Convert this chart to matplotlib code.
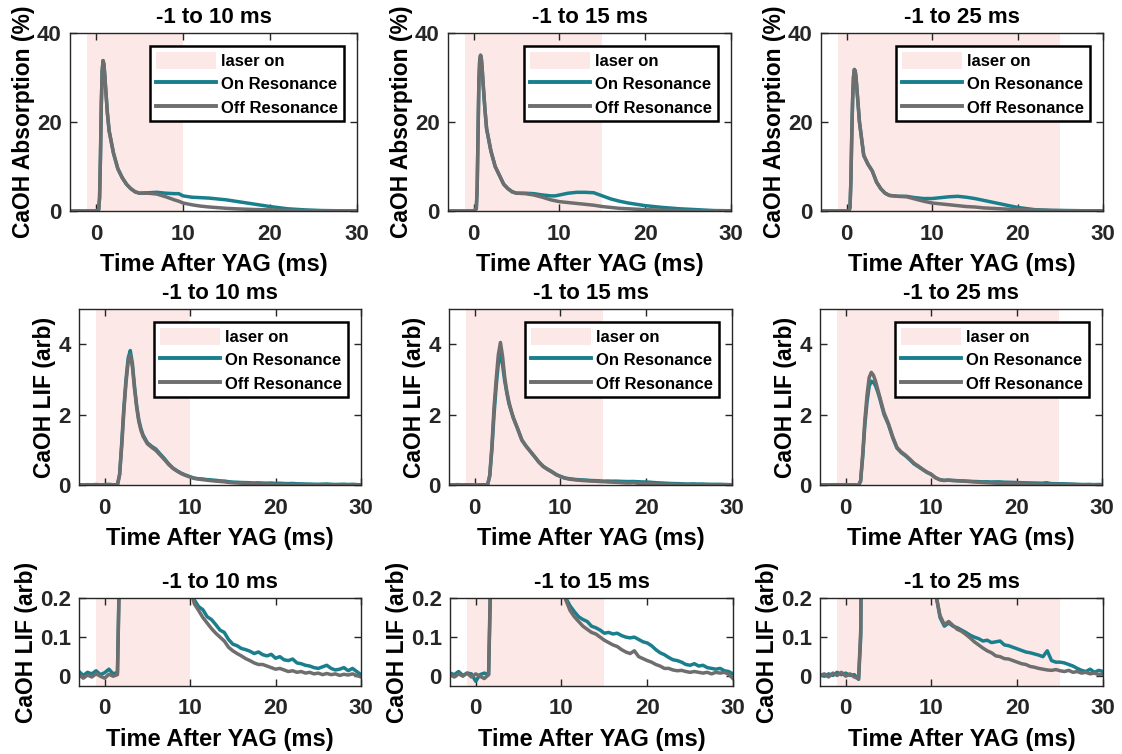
import numpy as np
import matplotlib
matplotlib.use('Agg')
from matplotlib import pyplot as plt
from matplotlib.patches import Patch
from matplotlib.lines import Line2D

plt.rcParams['font.family'] = ['Liberation Sans', 'DejaVu Sans']
plt.rcParams['font.weight'] = 'bold'

# laser windows (ms)
laser_end = [10, 15, 25]
titles = ['-1 to 10 ms', '-1 to 15 ms', '-1 to 25 ms']

# absorption traces (%)
t_abs = [-3, -1, 0, 0.3, 0.4, 0.5, 0.6, 0.7, 0.8, 0.9, 1.0, 1.1, 1.3, 1.5, 2, 2.5, 3, 3.5, 4, 4.5,
         5, 6, 7, 8, 9, 9.5, 10, 11, 12, 13, 14, 15, 16, 17, 18, 19, 20, 22, 24, 26, 28, 30]
abs_on_10 = [0, 0, 0, 0.3, 3, 12, 24, 31.5, 33.8, 33, 30.5, 27.5, 22, 18, 13, 9.5, 7.5, 6, 5, 4.3,
             4.0, 4.1, 4.2, 4.0, 3.9, 3.9, 3.4, 3.1, 3.0, 2.9, 2.7, 2.5, 2.2, 1.9, 1.6, 1.3, 1.0, 0.5,
             0.25, 0.1, 0.05, 0]
abs_off_10 = [0, 0, 0, 0.3, 3, 12, 24, 31.5, 33.8, 33, 30.5, 27.5, 22, 18, 13, 9.5, 7.5, 6, 5, 4.3,
              4.0, 4.0, 3.8, 3.2, 2.5, 2.2, 1.8, 1.4, 1.1, 0.9, 0.75, 0.6, 0.5, 0.42, 0.35, 0.3, 0.25, 0.15,
              0.08, 0.04, 0.02, 0]
abs_on_15 = [0, 0, 0, 0.5, 5, 17, 29, 34, 35, 34, 31.5, 28.5, 23, 18.5, 13.5, 10, 8, 6, 5, 4.3,
             4.0, 4.0, 3.9, 3.6, 3.4, 3.4, 3.6, 4.0, 4.2, 4.2, 4.1, 3.4, 2.7, 2.2, 1.8, 1.5, 1.2, 0.8,
             0.5, 0.3, 0.1, 0.05]
abs_off_15 = [0, 0, 0, 0.5, 5, 17, 29, 34, 35, 34, 31.5, 28.5, 23, 18.5, 13.5, 10, 8, 6, 5, 4.3,
              4.0, 3.9, 3.6, 3.1, 2.5, 2.3, 2.1, 1.9, 1.7, 1.5, 1.3, 1.0, 0.8, 0.6, 0.5, 0.4, 0.3, 0.2,
              0.1, 0.05, 0.02, 0]
abs_on_25 = [0, 0, 0, 0, 1, 7, 17, 25, 30, 31.8, 31.5, 30, 25, 20, 12.5, 10.5, 9, 6.5, 5, 4.0,
             3.5, 3.3, 3.3, 3.0, 2.8, 2.8, 2.8, 3.0, 3.2, 3.3, 3.1, 2.8, 2.4, 2.0, 1.6, 1.2, 0.8, 0.3,
             0.15, 0.1, 0.05, 0.05]
abs_off_25 = [0, 0, 0, 0, 1, 7, 17, 25, 30, 31.8, 31.5, 30, 25, 20, 12.5, 10.5, 9, 6.5, 5, 4.0,
              3.5, 3.3, 3.2, 2.7, 2.2, 2.0, 1.8, 1.6, 1.4, 1.2, 1.0, 0.9, 0.7, 0.6, 0.5, 0.4, 0.3, 0.2,
              0.1, 0.05, 0.02, 0]

# LIF traces (arb): 0.5 ms steps, 0.25 ms around the peak
t_lif = (list(np.arange(-3, 1.51, 0.5))
         + [1.75, 2.0, 2.25, 2.5, 2.75, 3.0, 3.25, 3.5, 3.75, 4.0, 4.25, 4.5]
         + list(np.arange(5, 30.01, 0.5)))
lif_on_10 = [0.012, 0.002, 0.010, 0.006, 0.014, 0.004, 0.009, 0.018, 0.006, 0.010,
             0.3, 1.2, 2.2, 3.0, 3.6, 3.82, 3.45, 2.8, 2.25, 1.85, 1.6, 1.42,
             1.2, 1.1, 1.02, 0.88, 0.75, 0.6, 0.48, 0.4, 0.33, 0.28, 0.235,
             0.195, 0.178, 0.17, 0.152, 0.145, 0.132, 0.118, 0.112, 0.094, 0.082, 0.078, 0.071, 0.068,
             0.064, 0.058, 0.062, 0.055, 0.052, 0.056, 0.046, 0.05, 0.042, 0.04, 0.044, 0.034, 0.032,
             0.028, 0.026, 0.022, 0.02, 0.024, 0.028, 0.02, 0.016, 0.018, 0.022, 0.014, 0.02, 0.012, 0.004]
lif_off_10 = [0.004, -0.005, 0.003, -0.002, 0.006, 0.0, -0.005, 0.005, 0.0, 0.004,
              0.28, 1.1, 2.1, 2.9, 3.5, 3.7, 3.35, 2.72, 2.2, 1.8, 1.55, 1.38,
              1.17, 1.07, 0.98, 0.85, 0.72, 0.58, 0.47, 0.39, 0.32, 0.27, 0.225,
              0.185, 0.168, 0.15, 0.136, 0.122, 0.11, 0.1, 0.09, 0.074, 0.065, 0.058, 0.052, 0.045,
              0.04, 0.034, 0.03, 0.03, 0.026, 0.022, 0.018, 0.02, 0.016, 0.012, 0.014, 0.01, 0.012,
              0.008, 0.01, 0.006, 0.008, 0.004, 0.007, 0.004, 0.006, 0.002, 0.005, 0.003, 0.006, 0.002, -0.002]
lif_on_15 = [0.008, 0.004, 0.012, 0.002, 0.008, 0.006, -0.013, 0.004, 0.008, 0.004,
             0.25, 1.0, 2.0, 2.8, 3.45, 3.75, 3.4, 2.95, 2.6, 2.3, 2.1, 1.9,
             1.6, 1.28, 1.1, 0.95, 0.8, 0.65, 0.53, 0.45, 0.38, 0.3, 0.245,
             0.2, 0.18, 0.165, 0.152, 0.145, 0.14, 0.128, 0.124, 0.118, 0.11, 0.112, 0.108, 0.11,
             0.104, 0.1, 0.098, 0.1, 0.094, 0.088, 0.085, 0.078, 0.068, 0.06, 0.055, 0.048, 0.042,
             0.04, 0.036, 0.03, 0.028, 0.032, 0.026, 0.028, 0.022, 0.02, 0.018, 0.02, 0.014, 0.012, 0.006]
lif_off_15 = [0.004, -0.002, 0.006, 0.0, 0.008, -0.002, 0.006, 0.0, -0.006, 0.004,
              0.28, 1.1, 2.2, 3.0, 3.7, 4.05, 3.65, 3.05, 2.65, 2.35, 2.12, 1.92,
              1.6, 1.27, 1.1, 0.95, 0.8, 0.64, 0.52, 0.44, 0.37, 0.29, 0.24,
              0.195, 0.168, 0.152, 0.14, 0.128, 0.12, 0.112, 0.108, 0.1, 0.092, 0.086, 0.08, 0.076,
              0.068, 0.062, 0.058, 0.065, 0.05, 0.045, 0.04, 0.036, 0.03, 0.026, 0.02, 0.02, 0.016,
              0.014, 0.015, 0.012, 0.01, 0.012, 0.01, 0.008, 0.01, 0.006, 0.01, 0.008, 0.01, 0.005, -0.006]
lif_on_25 = [0.004, 0.0, 0.006, 0.002, 0.01, 0.004, 0.008, 0.002, 0.004, -0.008,
             0.1, 0.8, 1.7, 2.35, 2.8, 2.95, 2.92, 2.82, 2.65, 2.45, 2.22, 2.0,
             1.72, 1.35, 1.05, 0.92, 0.83, 0.72, 0.6, 0.52, 0.44, 0.36, 0.3,
             0.21, 0.15, 0.128, 0.136, 0.128, 0.124, 0.118, 0.112, 0.105, 0.1, 0.096, 0.09, 0.092,
             0.086, 0.088, 0.09, 0.08, 0.078, 0.074, 0.07, 0.066, 0.062, 0.06, 0.057, 0.054, 0.05,
             0.065, 0.04, 0.036, 0.036, 0.034, 0.03, 0.026, 0.02, 0.015, 0.012, 0.018, 0.01, 0.015, 0.012]
lif_off_25 = [0.002, 0.006, -0.002, 0.008, 0.002, 0.01, 0.0, 0.006, -0.002, -0.006,
              0.12, 0.9, 1.85, 2.55, 3.05, 3.2, 3.12, 2.95, 2.72, 2.5, 2.27, 2.05,
              1.75, 1.38, 1.07, 0.94, 0.85, 0.74, 0.62, 0.54, 0.45, 0.37, 0.31,
              0.21, 0.155, 0.132, 0.14, 0.13, 0.12, 0.115, 0.107, 0.098, 0.088, 0.08, 0.072, 0.065,
              0.06, 0.052, 0.05, 0.045, 0.044, 0.04, 0.036, 0.032, 0.03, 0.025, 0.023, 0.02, 0.018,
              0.016, 0.015, 0.017, 0.014, 0.012, 0.015, 0.01, 0.012, 0.008, 0.01, 0.006, 0.008, 0.004, 0.005]

abs_on = [abs_on_10, abs_on_15, abs_on_25]
abs_off = [abs_off_10, abs_off_15, abs_off_25]
lif_on = [lif_on_10, lif_on_15, lif_on_25]
lif_off = [lif_off_10, lif_off_15, lif_off_25]

teal = '#1a7f8c'
grey = '#6e6e6e'
pink = '#fde8e8'
W, H = 1122, 754

# axes boxes in pixels: left, top, right, bottom
boxes = [
    [(70, 33, 357, 211), (448, 33, 731, 211), (821, 33, 1103, 211)],
    [(79, 309, 361, 485), (449, 309, 732, 485), (820, 309, 1102, 485)],
    [(79, 598, 361, 686), (450, 598, 733, 686), (820, 598, 1103, 686)],
]
ylims = [(0, 40), (0, 5), (-0.025, 0.2)]
yticks = [[0, 20, 40], [0, 2, 4], [0, 0.1, 0.2]]
yticklabels = [['0', '20', '40'], ['0', '2', '4'], ['0', '0.1', '0.2']]
ylabels = ['CaOH Absorption (%)', 'CaOH LIF (arb)', 'CaOH LIF (arb)']

fig = plt.figure(figsize=(W / 100, H / 100), dpi=100)

for r in range(3):
    for c in range(3):
        l, t, rr, b = boxes[r][c]
        ax = fig.add_axes([l / W, 1 - b / H, (rr - l) / W, (b - t) / H])
        ax.axvspan(-1, laser_end[c], color=pink, lw=0)
        if r == 0:
            ax.plot(t_abs, abs_on[c], color=teal, lw=2.5)
            ax.plot(t_abs, abs_off[c], color=grey, lw=2.5)
        else:
            ax.plot(t_lif, lif_on[c], color=teal, lw=2.5)
            ax.plot(t_lif, lif_off[c], color=grey, lw=2.5)
        ax.set_xlim(-3, 30)
        ax.set_ylim(*ylims[r])
        ax.set_xticks([0, 10, 20, 30])
        ax.set_yticks(yticks[r])
        ax.set_yticklabels(yticklabels[r])
        ax.tick_params(direction='in', top=True, right=True, length=5, width=1,
                       labelsize=16, colors='#262626')
        ax.tick_params(axis='x', pad=9)
        ax.tick_params(axis='y', pad=6)
        for s in ax.spines.values():
            s.set_color('#262626')
            s.set_linewidth(1)
        ax.set_title(titles[c], fontsize=16, fontweight='bold', pad=7)
        ax.set_xlabel('Time After YAG (ms)', fontsize=17, fontweight='bold', labelpad=6)
        ax.set_ylabel(ylabels[r], fontsize=16.5, fontweight='bold', labelpad=1.5)
        if r < 2:
            handles = [Patch(color=pink, lw=0),
                       Line2D([], [], color=teal, lw=2.8),
                       Line2D([], [], color=grey, lw=2.8)]
            leg = ax.legend(handles, ['laser on', 'On Resonance', 'Off Resonance'],
                            loc='upper right', fontsize=12, frameon=True, fancybox=False,
                            edgecolor='black', framealpha=1, borderaxespad=0.8,
                            handlelength=3.6, handleheight=1.15, handletextpad=0.3,
                            labelspacing=0.38, borderpad=0.35)
            leg.get_frame().set_linewidth(1.8)

fig.savefig('out.png', dpi=100)
